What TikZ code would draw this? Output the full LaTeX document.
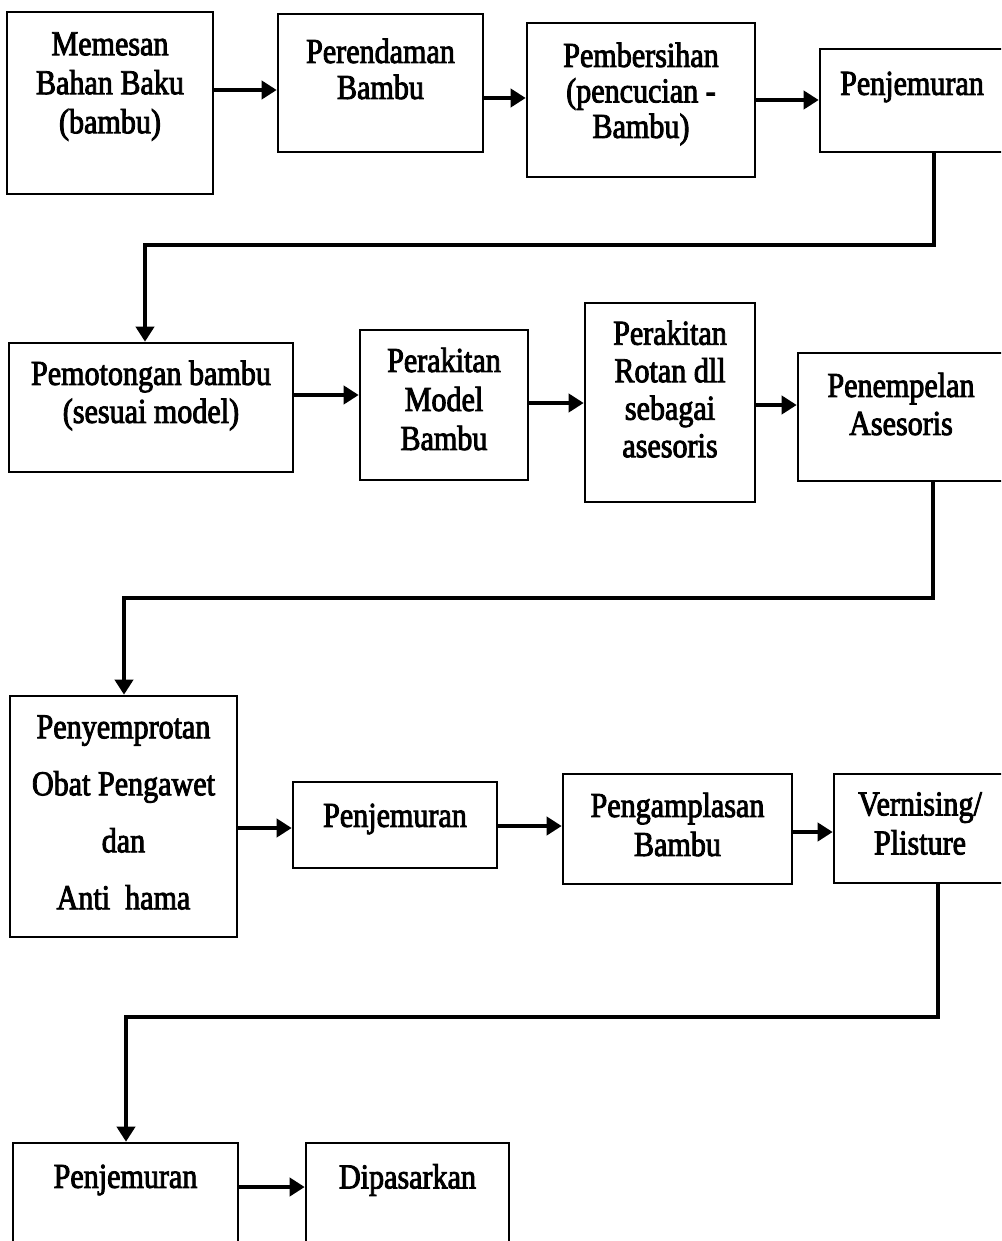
\documentclass[tikz,border=0pt]{standalone}
\usepackage{fontspec}
\setmainfont{Liberation Serif}[FakeStretch=0.86,FakeBold=2.5]
\usetikzlibrary{arrows.meta}
\tikzset{
  box/.style={draw=black, line width=2.6pt, inner sep=0pt, rectangle},
  txt/.style={align=center, inner sep=0pt, font=\fontsize{35}{39}\selectfont},
  arr/.style={line width=4pt, -{Triangle[length=15pt,width=18pt]}},
  conn/.style={line width=4pt, -{Triangle[length=15pt,width=18pt]}, line join=miter}
}
\begin{document}
\begin{tikzpicture}[x=1pt,y=-1pt]
\useasboundingbox (0,0) rectangle (1001,1241);
\clip (0,0) rectangle (1001,1241);
% boxes: centre = ((x1+x2)/2,(y1+y2)/2)
\node[box, minimum width=206pt, minimum height=182pt] (b1) at (110,103) {};
\node[box, minimum width=205pt, minimum height=138pt] (b2) at (380.5,83) {};
\node[box, minimum width=228pt, minimum height=154pt] (b3) at (641,100) {};
\node[box, minimum width=220pt, minimum height=103pt] (b4) at (930,100.5) {};
\node[box, minimum width=284pt, minimum height=129pt] (b5) at (151,407.5) {};
\node[box, minimum width=168pt, minimum height=150pt] (b6) at (444,405) {};
\node[box, minimum width=170pt, minimum height=199pt] (b7) at (670,402.5) {};
\node[box, minimum width=242pt, minimum height=128pt] (b8) at (919,417) {};
\node[box, minimum width=227pt, minimum height=241pt] (b9) at (123.5,816.5) {};
\node[box, minimum width=204pt, minimum height=86pt] (b10) at (395,825) {};
\node[box, minimum width=229pt, minimum height=110pt] (b11) at (677.5,829) {};
\node[box, minimum width=206pt, minimum height=109pt] (b12) at (937,828.5) {};
\node[box, minimum width=225pt, minimum height=140pt] (b13) at (125.5,1213) {};
\node[box, minimum width=203pt, minimum height=140pt] (b14) at (407.5,1213) {};
% texts
\node[txt] (t1) at (110,86.5) {Memesan\\Bahan Baku\\(bambu)};
\node[txt, font=\fontsize{35}{36}\selectfont] (t2) at (380.5,69) {Perendaman\\Bambu};
\node[txt, font=\fontsize{35}{35.5}\selectfont] (t3) at (641,94) {Pembersihan\\(pencucian -\\Bambu)};
\node[txt] (t4) at (912,87) {Penjemuran};
\node[txt, font=\fontsize{35}{38}\selectfont] (t5) at (151,395.5) {Pemotongan bambu\\(sesuai model)};
\node[txt] (t6) at (444,399) {Perakitan\\Model\\Bambu};
\node[txt, font=\fontsize{35}{37.5}\selectfont] (t7) at (670,389) {Perakitan\\Rotan dll\\sebagai\\asesoris};
\node[txt, font=\fontsize{35}{38}\selectfont] (t8) at (901,404) {Penempelan\\Asesoris};
\node[txt, font=\fontsize{35}{57}\selectfont] (t9) at (123.5,812.5) {Penyemprotan\\Obat Pengawet\\dan\\Anti\ \ hama};
\node[txt] (t10) at (395,819) {Penjemuran};
\node[txt] (t11) at (677.5,824.5) {Pengamplasan\\Bambu};
\node[txt] (t12) at (920,823.5) {Vernising/\\Plisture};
\node[txt] (t13) at (125.5,1180) {Penjemuran};
\node[txt] (t14) at (407.5,1180) {Dipasarkan};
% arrow levels
\coordinate (y1) at (0,90);
\coordinate (y2) at (0,98);
\coordinate (y3) at (0,100);
\coordinate (y4) at (0,395);
\coordinate (y5) at (0,403);
\coordinate (y6) at (0,405);
\coordinate (y7) at (0,828);
\coordinate (y8) at (0,826);
\coordinate (y9) at (0,832);
\coordinate (y10) at (0,1187);
\draw[arr] (b1.east |- y1) -- (b2.west |- y1);
\draw[arr] (b2.east |- y2) -- (b3.west |- y2);
\draw[arr] (b3.east |- y3) -- (b4.west |- y3);
\draw[arr] (b5.east |- y4) -- (b6.west |- y4);
\draw[arr] (b6.east |- y5) -- (b7.west |- y5);
\draw[arr] (b7.east |- y6) -- (b8.west |- y6);
\draw[arr] (b9.east |- y7) -- (b10.west |- y7);
\draw[arr] (b10.east |- y8) -- (b11.west |- y8);
\draw[arr] (b11.east |- y9) -- (b12.west |- y9);
\draw[arr] (b13.east |- y10) -- (b14.west |- y10);
% return connectors
\coordinate (c1a) at (934,245);
\coordinate (c1b) at (145,245);
\coordinate (c2a) at (933,598);
\coordinate (c2b) at (124,598);
\coordinate (c3a) at (938,1017);
\coordinate (c3b) at (126,1017);
\draw[conn] (c1a |- b4.south) -- (c1a) -- (c1b) -- (c1b |- b5.north);
\draw[conn] (c2a |- b8.south) -- (c2a) -- (c2b) -- (c2b |- b9.north);
\draw[conn] (c3a |- b12.south) -- (c3a) -- (c3b) -- (c3b |- b13.north);
\end{tikzpicture}
\end{document}
